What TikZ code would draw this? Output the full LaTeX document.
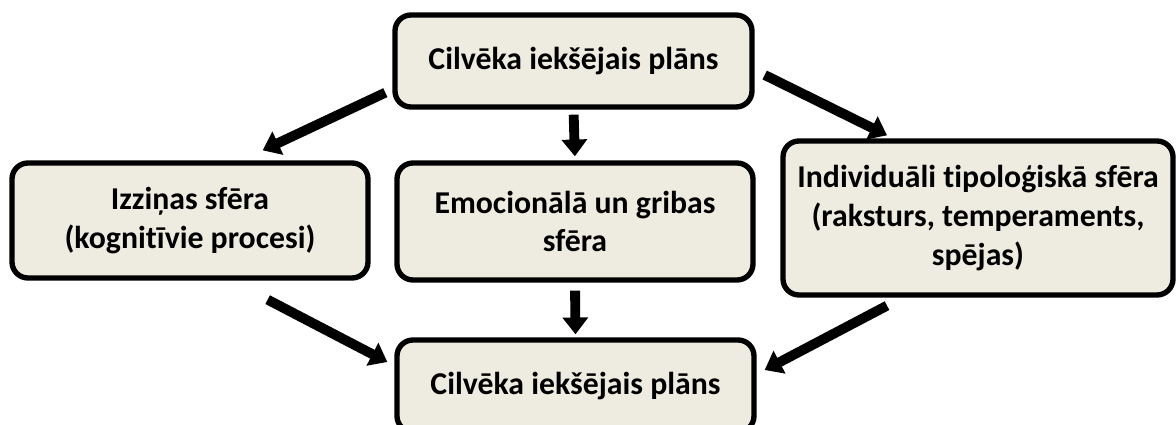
\documentclass[tikz,border=0pt]{standalone}
\usepackage{fontspec}
\setmainfont[RawFeature=-liga]{Carlito}
\usetikzlibrary{arrows.meta}
\definecolor{boxfill}{HTML}{EEECE1}
\begin{document}
\begin{tikzpicture}[x=0.025cm, y=-0.025cm,
    sphere/.style={draw=black, line width=3.8pt, fill=boxfill, rounded corners=0.4cm,
        align=center, inner sep=0pt,
        font=\fontsize{22.6}{27.5}\selectfont\bfseries},
    arr/.style={line width=7pt, -{Triangle[length=0.42cm, width=0.62cm]}}]
    \clip (0,0) rectangle (1176,425);

    % Draw boxes
    \node[sphere, minimum width=357*0.025cm, minimum height=92*0.025cm] (top) at (573.5,61) {Cilvēka iekšējais plāns};
    \node[sphere, minimum width=356*0.025cm, minimum height=115*0.025cm] (cogn) at (190,220.5) {Izziņas sfēra\\(kognitīvie procesi)};
    \node[sphere, minimum width=356*0.025cm, minimum height=117*0.025cm] (emot) at (575,221.5) {Emocionālā un gribas\\sfēra};
    \node[sphere, minimum width=390*0.025cm, minimum height=154*0.025cm] (indiv) at (978,218) {Individuāli tipoloģiskā sfēra\\(raksturs, temperaments,\\spējas)};
    \node[sphere, minimum width=357*0.025cm, minimum height=92*0.025cm] (bot) at (575.5,386) {Cilvēka iekšējais plāns};

    % Draw arrows from the top box
    \draw[arr] ([shift={(-7,-17)}]top.south west) -- ([shift={(-108,-10)}]cogn.north east);
    \draw[arr, shorten <=5*0.025cm, shorten >=4*0.025cm] (top.south) -- (emot.north);
    \draw[arr] ([shift={(10,14)}]top.east) -- ([shift={(-91,-3)}]indiv.north);

    % Draw arrows to the bottom box
    \draw[arr] ([shift={(-103,19)}]cogn.south east) -- ([shift={(-7,-24)}]bot.west);
    \draw[arr, shorten <=8*0.025cm, shorten >=3*0.025cm] (emot.south) -- (bot.north);
    \draw[arr] ([shift={(-91,8)}]indiv.south) -- ([shift={(8,-16)}]bot.east);
\end{tikzpicture}
\end{document}
